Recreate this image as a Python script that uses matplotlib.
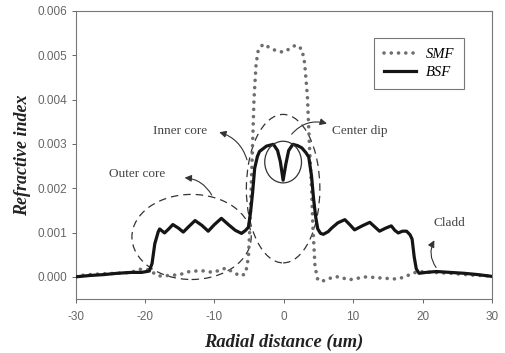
import matplotlib
matplotlib.use("Agg")
import matplotlib.pyplot as plt
from matplotlib.patches import Ellipse, FancyArrowPatch
from matplotlib.ticker import FormatStrFormatter

# radial positions (um) and index values (x1e-3)
bsf_x = [-30, -28, -26, -24, -22, -20.5, -19.4, -19.0, -18.6, -18.1, -17.9, -17.2,
         -16.6, -16.0, -15.2, -14.5, -13.6, -12.8, -11.8, -10.9, -10.0, -9.0, -8.0,
         -7.0, -6.1, -5.5, -5.1, -4.8, -4.5, -4.2, -3.8, -3.5, -2.5, -1.5, -0.9, -0.5,
         -0.1, 0.3, 0.7, 1.3, 2.0, 2.6, 3.2, 3.6, 4.0, 4.3, 4.6, 4.9, 5.3, 5.7, 6.4,
         6.9, 7.8, 8.8, 9.5, 10.2, 11.3, 12.4, 13.1, 13.8, 14.7, 15.5, 16.0, 16.5,
         17.1, 17.7, 18.2, 18.5, 18.8, 19.1, 19.5, 20.5, 22, 24, 26, 28, 30]
bsf_y = [0.00, 0.03, 0.05, 0.08, 0.10, 0.10, 0.13, 0.30, 0.75, 1.02, 1.08, 0.99,
         1.08, 1.18, 1.10, 1.01, 1.15, 1.27, 1.16, 1.03, 1.18, 1.32, 1.18,
         1.05, 0.98, 1.05, 1.12, 1.45, 1.90, 2.45, 2.72, 2.83, 2.95, 2.99, 2.85, 2.60,
         2.18, 2.55, 2.85, 2.99, 2.96, 2.91, 2.80, 2.70, 2.27, 1.75, 1.35, 1.08, 0.98, 0.96, 1.02,
         1.10, 1.22, 1.29, 1.18, 1.06, 1.15, 1.23, 1.13, 1.03, 1.10, 1.15, 1.05, 0.99,
         1.03, 1.03, 0.95, 0.85, 0.45, 0.18, 0.08, 0.10, 0.12, 0.10, 0.08, 0.05, 0.01]

smf_x = [-30, -28, -26, -24, -22, -20.8, -19.3, -18.5, -17.9, -16.5, -15, -13.6, -11.9,
         -10.2, -8.3, -7.1, -6.1, -5.5, -5.1, -4.9, -4.6, -4.3, -4.0, -3.7, -3.0, -2.0,
         -1.1, -0.1, 0.9, 1.7, 2.6, 3.0, 3.4, 3.7, 4.0, 4.2, 4.5, 4.9, 5.4, 6.2, 7.1,
         8.1, 9.3, 10.7, 11.9, 14.3, 16.3, 17.5, 18.4, 19.4, 21.5, 24, 27, 30]
smf_y = [0.02, 0.05, 0.07, 0.08, 0.10, 0.17, 0.16, 0.05, 0.02, 0.03, 0.05, 0.12, 0.14,
         0.10, 0.20, 0.08, 0.02, 0.08, 0.45, 1.10, 2.50, 4.00, 4.80, 5.10, 5.25, 5.17,
         5.10, 5.07, 5.15, 5.23, 5.14, 4.83, 4.08, 2.95, 2.00, 1.10, 0.23, -0.07, -0.10, -0.07, 0.00,
         0.00, -0.07, -0.03, 0.00, -0.03, -0.05, 0.00, 0.07, 0.12, 0.10, 0.08, 0.04, 0.02]

x_ticks = [-30, -20, -10, 0, 10, 20, 30]
y_ticks = [0.000, 0.001, 0.002, 0.003, 0.004, 0.005, 0.006]

serif = ["Liberation Serif", "DejaVu Serif"]
plt.rcParams['font.family'] = ["Liberation Sans", "DejaVu Sans"]
plt.rcParams['axes.unicode_minus'] = False

fig = plt.figure(figsize=(5.05, 3.53), dpi=100)
ax = fig.add_axes([0.150, 0.153, 0.824, 0.816])

ax.plot(smf_x, [v * 1e-3 for v in smf_y], color='#6e6e6e', lw=2.6,
        linestyle=(0, (0.01, 2.0)), dash_capstyle='round', label='SMF', zorder=3)
ax.plot(bsf_x, [v * 1e-3 for v in bsf_y], color='#151515', lw=2.3,
        solid_joinstyle='round', label='BSF', zorder=4)

ax.set_xlim(-30, 30)
ax.set_ylim(-0.0005, 0.006)
ax.set_xticks(x_ticks)
ax.set_yticks(y_ticks)
ax.yaxis.set_major_formatter(FormatStrFormatter('%.3f'))
ax.tick_params(direction='out', length=3, width=0.7, colors='#666', labelsize=8.5,
               labelcolor='#666', pad=3)
ax.tick_params(axis='x', pad=6)
for s in ax.spines.values():
    s.set_color('#777')
    s.set_linewidth(0.8)

ax.set_xlabel('Radial distance (um)', fontsize=13.3, fontweight='bold', style='italic',
              family=serif, color='#222', labelpad=7)
ax.set_ylabel('Refractive index', fontsize=13, fontweight='bold', style='italic',
              family=serif, color='#222', labelpad=5)

# dashed ellipses and the dip circle
ax.add_patch(Ellipse((-13.3, 0.0009), 17.2, 0.00192, fill=False, ls=(0, (6, 4)),
                     lw=0.9, ec='#333', zorder=2))
ax.add_patch(Ellipse((-0.1, 0.00199), 10.6, 0.00335, fill=False, ls=(0, (6, 4)),
                     lw=0.9, ec='#333', zorder=2))
ax.add_patch(Ellipse((-0.1, 0.00259), 5.3, 0.00094, fill=False, lw=0.9, ec='#333', zorder=5))

txt = dict(fontsize=9.5, family=serif, color='#444', va='center')
ax.text(-15.0, 0.00328, 'Inner core', ha='center', **txt)
ax.text(-21.1, 0.00231, 'Outer core', ha='center', **txt)
ax.text(7.0, 0.00330, 'Center dip', ha='left', **txt)
ax.text(23.9, 0.00122, 'Cladd', ha='center', **txt)

arrows = [((-5.2, 0.00258), (-9.7, 0.00328), 0.3),
          ((-10.2, 0.00179), (-14.7, 0.00224), 0.3),
          ((0.87, 0.00317), (6.6, 0.00344), -0.35),
          ((22.2, 0.00016), (21.9, 0.00088), -0.35)]
for start, end, rad in arrows:
    ax.add_patch(FancyArrowPatch(start, end, connectionstyle=f'arc3,rad={rad}',
                                 arrowstyle='-|>,head_length=4,head_width=2',
                                 color='#333', lw=0.8, zorder=6))

leg = ax.legend(loc='upper left', bbox_to_anchor=(0.70, 0.93), fancybox=False,
                edgecolor='#777', framealpha=1, handlelength=2.2, handletextpad=0.7,
                labelspacing=0.35, borderpad=0.65,
                prop={'family': serif, 'style': 'italic', 'size': 10.5})
leg.get_frame().set_linewidth(0.8)

fig.savefig('out.png', dpi=100)
